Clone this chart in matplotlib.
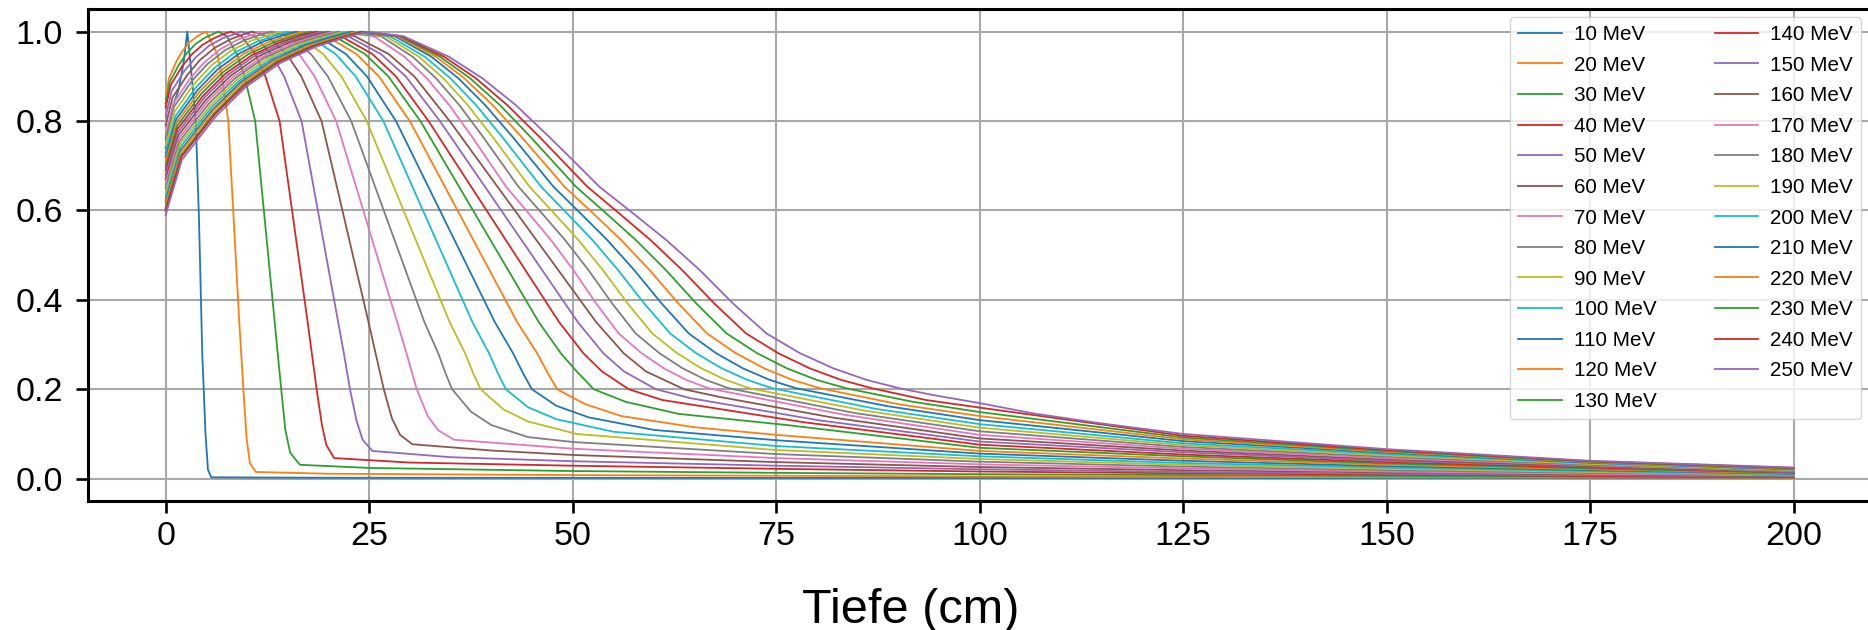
import matplotlib
matplotlib.use("Agg")
import matplotlib.pyplot as plt

plt.rcParams['font.family'] = ['Liberation Sans', 'DejaVu Sans']

energies = [10, 20, 30, 40, 50, 60, 70, 80, 90, 100, 110, 120, 130,
            140, 150, 160, 170, 180, 190, 200, 210, 220, 230, 240, 250]

depth_10 = [0, 0.5, 1.0, 1.6, 2.2, 2.66, 3.1, 3.7, 4.1, 4.5, 4.9, 5.2, 5.6, 20, 200]
dose_10 = [0.74, 0.80, 0.84, 0.87, 0.93, 1.0, 0.92, 0.8, 0.58, 0.28, 0.1, 0.02, 0.003, 0.002, 0.001]

depth_20 = [0, 0.4, 1.25, 2.0, 2.85, 3.75, 4.5, 5.0, 6.35, 6.92, 7.7, 8.15, 8.6, 9.05, 9.55, 9.95, 10.35, 11.1, 20, 50, 100, 150, 200]
dose_20 = [0.85, 0.895, 0.931, 0.955, 0.975, 0.988, 0.996, 1.0, 0.95, 0.9, 0.8, 0.65, 0.5, 0.35, 0.2, 0.09, 0.035, 0.015, 0.011, 0.008, 0.005, 0.003, 0.002]

depth_30 = [0, 0.52, 1.63, 2.6, 3.7, 4.88, 5.85, 6.5, 7.5, 8.75, 9.7, 11.0, 11.8, 12.6, 13.4, 14.2, 14.7, 15.3, 16.5, 25, 50, 75, 100, 150, 200]
dose_30 = [0.84, 0.888, 0.926, 0.952, 0.973, 0.987, 0.995, 1.0, 0.99, 0.95, 0.9, 0.8, 0.65, 0.5, 0.35, 0.2, 0.11, 0.058, 0.031, 0.024, 0.017, 0.013, 0.01, 0.006, 0.003]

depth_40 = [0, 0.64, 2.0, 3.2, 4.56, 6.0, 7.2, 8.0, 9.32, 11.0, 12.26, 14.0, 15.15, 16.3, 17.45, 18.55, 19.2, 19.75, 20.7, 30, 50, 75, 100, 125, 150, 175, 200]
dose_40 = [0.83, 0.881, 0.922, 0.949, 0.971, 0.986, 0.995, 1.0, 0.99, 0.95, 0.9, 0.8, 0.65, 0.5, 0.35, 0.2, 0.12, 0.075, 0.046, 0.036, 0.029, 0.022, 0.016, 0.012, 0.009, 0.006, 0.004]

depth_50 = [0, 0.74, 2.33, 3.72, 5.3, 6.98, 8.37, 9.3, 10.93, 13.0, 14.55, 16.7, 18.2, 19.7, 21.2, 21.9, 22.65, 23.45, 24.2, 25.4, 35, 50, 75, 100, 125, 150, 175, 200]
dose_50 = [0.81, 0.867, 0.913, 0.943, 0.968, 0.985, 0.994, 1.0, 0.99, 0.95, 0.9, 0.8, 0.65, 0.5, 0.35, 0.28, 0.2, 0.13, 0.087, 0.062, 0.048, 0.039, 0.029, 0.021, 0.015, 0.011, 0.008, 0.005]

depth_60 = [0, 0.85, 2.65, 4.24, 6.04, 7.95, 9.54, 10.6, 12.48, 14.88, 16.67, 19.15, 21.08, 23.0, 24.93, 25.8, 26.8, 27.8, 28.8, 30.3, 40, 50, 75, 100, 125, 150, 175, 200]
dose_60 = [0.79, 0.853, 0.903, 0.937, 0.964, 0.983, 0.994, 1.0, 0.99, 0.95, 0.9, 0.8, 0.65, 0.5, 0.35, 0.28, 0.2, 0.135, 0.098, 0.077, 0.063, 0.053, 0.037, 0.026, 0.019, 0.014, 0.01, 0.006]

depth_70 = [0, 0.94, 2.95, 4.72, 6.73, 8.85, 10.62, 11.8, 13.81, 16.38, 18.3, 20.95, 23.45, 25.95, 28.45, 29.6, 30.85, 32.2, 33.5, 35.45, 50, 75, 100, 125, 150, 175, 200]
dose_70 = [0.77, 0.839, 0.894, 0.931, 0.961, 0.982, 0.993, 1.0, 0.99, 0.95, 0.9, 0.8, 0.65, 0.5, 0.35, 0.28, 0.2, 0.14, 0.108, 0.087, 0.067, 0.046, 0.032, 0.023, 0.016, 0.011, 0.007]

depth_80 = [0, 1.03, 3.23, 5.16, 7.35, 9.68, 11.61, 12.9, 15.08, 17.85, 19.93, 22.8, 25.8, 28.8, 31.8, 33.5, 34.4, 35.2, 37.5, 40, 44.5, 50, 75, 100, 125, 150, 175, 200]
dose_80 = [0.76, 0.832, 0.89, 0.928, 0.959, 0.981, 0.993, 1.0, 0.99, 0.95, 0.9, 0.8, 0.65, 0.5, 0.35, 0.28, 0.235, 0.2, 0.15, 0.12, 0.093, 0.082, 0.055, 0.038, 0.027, 0.019, 0.013, 0.008]

depth_90 = [0, 1.12, 3.5, 5.6, 7.98, 10.5, 12.6, 14.0, 16.35, 19.35, 21.6, 24.7, 28.1, 31.5, 34.9, 36.8, 37.8, 38.7, 41.5, 44.5, 50.5, 75, 100, 125, 150, 175, 200]
dose_90 = [0.745, 0.822, 0.883, 0.924, 0.957, 0.98, 0.992, 1.0, 0.99, 0.95, 0.9, 0.8, 0.65, 0.5, 0.35, 0.28, 0.235, 0.2, 0.155, 0.128, 0.1, 0.064, 0.044, 0.031, 0.022, 0.015, 0.009]

depth_100 = [0, 1.2, 3.75, 6.0, 8.55, 11.25, 13.5, 15.0, 17.59, 20.88, 23.34, 26.75, 30.4, 34.05, 37.7, 39.75, 40.84, 41.8, 44.5, 48, 55, 75, 100, 125, 150, 175, 200]
dose_100 = [0.73, 0.811, 0.876, 0.919, 0.954, 0.978, 0.992, 1.0, 0.99, 0.95, 0.9, 0.8, 0.65, 0.5, 0.35, 0.28, 0.235, 0.2, 0.16, 0.133, 0.105, 0.073, 0.05, 0.035, 0.025, 0.017, 0.01]

depth_110 = [0, 1.28, 4.0, 6.4, 9.12, 12.0, 14.4, 16.0, 18.71, 22.15, 24.73, 28.3, 32.35, 36.4, 40.45, 42.7, 43.93, 45.0, 48, 52, 60, 75, 100, 125, 150, 175, 200]
dose_110 = [0.72, 0.804, 0.871, 0.916, 0.952, 0.978, 0.992, 1.0, 0.99, 0.95, 0.9, 0.8, 0.65, 0.5, 0.35, 0.28, 0.235, 0.2, 0.163, 0.137, 0.109, 0.086, 0.056, 0.04, 0.028, 0.019, 0.011]

depth_120 = [0, 1.35, 4.23, 6.76, 9.63, 12.68, 15.21, 16.9, 19.78, 23.45, 26.2, 30.0, 34.4, 38.8, 43.2, 45.66, 46.98, 48.1, 51.5, 56, 65, 75, 100, 125, 150, 175, 200]
dose_120 = [0.71, 0.797, 0.867, 0.913, 0.951, 0.977, 0.991, 1.0, 0.99, 0.95, 0.9, 0.8, 0.65, 0.5, 0.35, 0.28, 0.235, 0.2, 0.167, 0.14, 0.115, 0.098, 0.062, 0.045, 0.031, 0.021, 0.012]

depth_130 = [0, 1.42, 4.43, 7.08, 10.09, 13.28, 15.93, 17.7, 20.69, 24.5, 27.36, 31.3, 36.15, 41.0, 45.85, 48.57, 50.5, 52.6, 56.5, 63, 76.3, 100, 125, 150, 175, 200]
dose_130 = [0.70, 0.79, 0.862, 0.91, 0.949, 0.976, 0.991, 1.0, 0.99, 0.95, 0.9, 0.8, 0.65, 0.5, 0.35, 0.28, 0.24, 0.2, 0.172, 0.145, 0.12, 0.069, 0.05, 0.034, 0.023, 0.013]

depth_140 = [0, 1.48, 4.63, 7.4, 10.55, 13.88, 16.65, 18.5, 21.54, 25.4, 28.3, 32.3, 37.65, 43.0, 48.35, 51.35, 53.6, 56.9, 61, 78.5, 100, 125, 150, 175, 200]
dose_140 = [0.69, 0.783, 0.857, 0.907, 0.947, 0.975, 0.991, 1.0, 0.99, 0.95, 0.9, 0.8, 0.65, 0.5, 0.35, 0.28, 0.24, 0.2, 0.176, 0.126, 0.076, 0.054, 0.037, 0.025, 0.014]

depth_150 = [0, 1.54, 4.8, 7.68, 10.94, 14.4, 17.28, 19.2, 22.39, 26.45, 29.5, 33.7, 39.35, 45.0, 50.65, 53.8, 56.3, 60.25, 64.5, 80.1, 100, 125, 150, 175, 200]
dose_150 = [0.68, 0.776, 0.853, 0.904, 0.946, 0.974, 0.99, 1.0, 0.99, 0.95, 0.9, 0.8, 0.65, 0.5, 0.35, 0.28, 0.24, 0.2, 0.18, 0.131, 0.083, 0.059, 0.04, 0.027, 0.015]

depth_160 = [0, 1.59, 4.98, 7.96, 11.34, 14.93, 17.91, 19.9, 23.2, 27.4, 30.55, 34.9, 40.9, 46.9, 52.9, 56.3, 59.0, 63.7, 68.0, 81.85, 100, 125, 150, 175, 200]
dose_160 = [0.67, 0.769, 0.848, 0.901, 0.944, 0.974, 0.99, 1.0, 0.99, 0.95, 0.9, 0.8, 0.65, 0.5, 0.35, 0.28, 0.24, 0.2, 0.183, 0.137, 0.09, 0.063, 0.043, 0.028, 0.016]

depth_170 = [0, 1.65, 5.15, 8.24, 11.74, 15.45, 18.54, 20.6, 25.58, 29.33, 32.08, 34.83, 37.63, 39.58, 41.83, 44.58, 47.33, 50.08, 52.89, 55.66, 58.45, 61.2, 63.95, 66.7, 83.35, 100, 125, 150, 175, 200]
dose_170 = [0.66, 0.762, 0.844, 0.898, 0.942, 0.973, 0.99, 1.0, 0.99, 0.944, 0.896, 0.836, 0.765, 0.713, 0.653, 0.594, 0.534, 0.467, 0.392, 0.325, 0.281, 0.247, 0.221, 0.202, 0.143, 0.098, 0.067, 0.046, 0.03, 0.017]

depth_180 = [0, 1.7, 5.3, 8.48, 12.08, 15.9, 19.08, 21.2, 26.45, 30.35, 33.21, 36.07, 38.98, 41.01, 43.35, 46.21, 49.07, 51.93, 54.86, 57.74, 60.64, 63.5, 66.36, 69.22, 84.6, 100, 125, 150, 175, 200]
dose_180 = [0.65, 0.755, 0.839, 0.895, 0.941, 0.972, 0.99, 1.0, 0.99, 0.944, 0.896, 0.836, 0.765, 0.713, 0.653, 0.594, 0.534, 0.467, 0.392, 0.325, 0.281, 0.247, 0.221, 0.202, 0.147, 0.106, 0.071, 0.049, 0.031, 0.018]

depth_190 = [0, 1.74, 5.45, 8.72, 12.43, 16.35, 19.62, 21.8, 27.04, 31.12, 34.11, 37.1, 40.15, 42.27, 44.72, 47.71, 50.7, 53.7, 56.76, 59.78, 62.81, 65.8, 68.79, 71.78, 85.9, 100, 125, 150, 175, 200]
dose_190 = [0.64, 0.748, 0.834, 0.892, 0.939, 0.971, 0.989, 1.0, 0.99, 0.944, 0.896, 0.836, 0.765, 0.713, 0.653, 0.594, 0.534, 0.467, 0.392, 0.325, 0.281, 0.247, 0.221, 0.202, 0.152, 0.114, 0.075, 0.052, 0.033, 0.019]

depth_200 = [0, 1.79, 5.6, 8.96, 12.77, 16.8, 20.16, 22.4, 27.55, 31.84, 34.98, 38.13, 41.33, 43.56, 46.14, 49.28, 52.43, 55.57, 58.79, 61.97, 65.15, 68.3, 71.45, 74.59, 87.3, 100, 125, 150, 175, 200]
dose_200 = [0.63, 0.741, 0.83, 0.889, 0.937, 0.97, 0.989, 1.0, 0.99, 0.944, 0.896, 0.836, 0.765, 0.713, 0.653, 0.594, 0.534, 0.467, 0.392, 0.325, 0.281, 0.247, 0.221, 0.202, 0.156, 0.122, 0.079, 0.055, 0.035, 0.02]

depth_210 = [0, 1.83, 5.73, 9.16, 13.05, 17.18, 20.61, 22.9, 28.15, 32.65, 35.95, 39.25, 42.61, 44.95, 47.65, 50.95, 54.25, 57.55, 60.93, 64.26, 67.6, 70.9, 74.2, 77.5, 88.75, 100, 125, 150, 175, 200]
dose_210 = [0.62, 0.734, 0.825, 0.886, 0.935, 0.97, 0.989, 1.0, 0.99, 0.944, 0.896, 0.836, 0.765, 0.713, 0.653, 0.594, 0.534, 0.467, 0.392, 0.325, 0.281, 0.247, 0.221, 0.202, 0.162, 0.131, 0.084, 0.058, 0.036, 0.021]

depth_220 = [0, 1.87, 5.85, 9.36, 13.34, 17.55, 21.06, 23.4, 28.47, 33.21, 36.69, 40.16, 43.7, 46.17, 49.01, 52.49, 55.96, 59.44, 62.99, 66.5, 70.02, 73.5, 76.98, 80.45, 90.2, 100, 125, 150, 175, 200]
dose_220 = [0.615, 0.731, 0.823, 0.885, 0.935, 0.969, 0.988, 1.0, 0.99, 0.944, 0.896, 0.836, 0.765, 0.713, 0.653, 0.594, 0.534, 0.467, 0.392, 0.325, 0.281, 0.247, 0.221, 0.202, 0.166, 0.14, 0.088, 0.06, 0.037, 0.022]

depth_230 = [0, 1.91, 5.98, 9.56, 13.62, 17.93, 21.51, 23.9, 28.71, 33.72, 37.39, 41.06, 44.8, 47.41, 50.42, 54.09, 57.76, 61.44, 65.19, 68.9, 72.63, 76.3, 79.97, 83.65, 91.8, 100, 125, 150, 175, 200]
dose_230 = [0.605, 0.724, 0.818, 0.882, 0.933, 0.968, 0.988, 1.0, 0.99, 0.944, 0.896, 0.836, 0.765, 0.713, 0.653, 0.594, 0.534, 0.467, 0.392, 0.325, 0.281, 0.247, 0.221, 0.202, 0.172, 0.149, 0.092, 0.062, 0.038, 0.023]

depth_240 = [0, 1.94, 6.08, 9.72, 13.85, 18.23, 21.87, 24.3, 28.94, 34.22, 38.09, 41.96, 45.91, 48.65, 51.82, 55.69, 59.56, 63.44, 67.4, 71.3, 75.23, 79.1, 82.97, 86.84, 93.4, 100, 125, 150, 175, 200]
dose_240 = [0.60, 0.72, 0.816, 0.88, 0.932, 0.968, 0.988, 1.0, 0.99, 0.944, 0.896, 0.836, 0.765, 0.713, 0.653, 0.594, 0.534, 0.467, 0.392, 0.325, 0.281, 0.247, 0.221, 0.202, 0.176, 0.159, 0.096, 0.064, 0.039, 0.024]

depth_250 = [0, 1.98, 6.18, 9.88, 14.08, 18.53, 22.23, 24.7, 29.2, 34.8, 38.9, 43.0, 47.1, 50.0, 53.3, 57.4, 61.5, 65.6, 69.7, 73.8, 77.9, 82.0, 86.1, 90.2, 94.3, 100, 106.6, 114.8, 125, 150, 175, 200]
dose_250 = [0.59, 0.713, 0.811, 0.877, 0.93, 0.967, 0.988, 1.0, 0.99, 0.944, 0.896, 0.836, 0.765, 0.713, 0.653, 0.594, 0.534, 0.467, 0.392, 0.325, 0.281, 0.247, 0.221, 0.202, 0.187, 0.169, 0.146, 0.124, 0.1, 0.066, 0.04, 0.025]

depths = [depth_10, depth_20, depth_30, depth_40, depth_50, depth_60, depth_70, depth_80,
          depth_90, depth_100, depth_110, depth_120, depth_130, depth_140, depth_150,
          depth_160, depth_170, depth_180, depth_190, depth_200, depth_210, depth_220,
          depth_230, depth_240, depth_250]
doses = [dose_10, dose_20, dose_30, dose_40, dose_50, dose_60, dose_70, dose_80,
         dose_90, dose_100, dose_110, dose_120, dose_130, dose_140, dose_150,
         dose_160, dose_170, dose_180, dose_190, dose_200, dose_210, dose_220,
         dose_230, dose_240, dose_250]

x_ticks = [0, 25, 50, 75, 100, 125, 150, 175, 200]
y_ticks = [0.0, 0.2, 0.4, 0.6, 0.8, 1.0]

W, H = 1868, 630
fig = plt.figure(figsize=(W / 100, H / 100), dpi=100)
ax_left, ax_right, ax_top, ax_bottom = 88.3, 1875.0, 9.35, 501.0
ax = fig.add_axes([ax_left / W, 1 - ax_bottom / H, (ax_right - ax_left) / W, (ax_bottom - ax_top) / H])

for e, d, y in zip(energies, depths, doses):
    ax.plot(d, y, lw=1.3, label=f"{e} MeV")

ax.set_xlim(-9.5, 210)
ax.set_ylim(-0.05, 1.05)
ax.set_xticks(x_ticks)
ax.set_yticks(y_ticks)
ax.set_xticklabels([str(v) for v in x_ticks])
ax.set_yticklabels([f"{v:.1f}" for v in y_ticks])
ax.grid(True, color='#a8a8a8', lw=1.5)
for s in ax.spines.values():
    s.set_linewidth(2.2)
    s.set_color('black')
ax.tick_params(axis='both', direction='out', length=8.5, width=1.9, labelsize=24.5, colors='black')
ax.tick_params(axis='y', pad=9.7)
ax.tick_params(axis='x', pad=6)

leg = ax.legend(ncol=2, loc='upper right', bbox_to_anchor=(1861 / W, 1 - 16.7 / H),
                bbox_transform=fig.transFigure, borderaxespad=0,
                fontsize=14.9, labelspacing=0.56, handlelength=2.1, handletextpad=0.58,
                columnspacing=2.8, borderpad=0.4, framealpha=0.8, edgecolor='0.8')

fig.text(911 / W, 1 - 623 / H, "Tiefe (cm)", fontsize=35, ha='center', va='baseline')

fig.savefig("out.png", dpi=100)
